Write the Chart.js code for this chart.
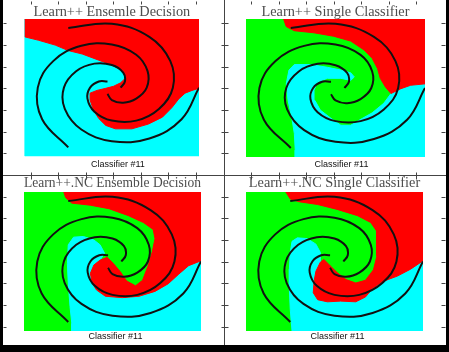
<!DOCTYPE html>
<html>
<head>
<meta charset="utf-8">
<script src="https://cdn.jsdelivr.net/npm/chart.js@4.4.1/dist/chart.umd.min.js"></script>
<style>
  html, body { margin: 0; padding: 0; background: #000; }
  #frame { position: absolute; left: 3px; top: 0; width: 443px; height: 345px; background: #fff; overflow: hidden; }
  #frame canvas { position: absolute; }
</style>
</head>
<body>
<div id="frame">
  <canvas id="p1" width="220" height="175" style="left:0;top:0"></canvas>
  <canvas id="p2" width="222" height="175" style="left:221px;top:0"></canvas>
  <canvas id="p3" width="220" height="169" style="left:0;top:176px"></canvas>
  <canvas id="p4" width="222" height="169" style="left:221px;top:176px"></canvas>
  <canvas id="overlay" width="443" height="350" style="left:0;top:0"></canvas>
</div>
<script>
// titles
const titles = ['Learn++ Ensemle Decision', 'Learn++ Single Classifier',
                'Learn++.NC Ensemble Decision', 'Learn++.NC Single Classifier'];
const xLabel = 'Classifier #11';

// spiral arms (outer end first), plot runs -1..1 both ways
const armA = [[-0.50,0.87],[0.00,0.93],[0.43,0.74],[0.67,0.39],[0.70,0.00],[0.54,-0.31],[0.28,-0.48],
              [0.00,-0.48],[-0.20,-0.35],[-0.28,-0.16],[-0.25,0.00],[-0.15,0.09],[-0.05,0.09]];
const armB = [[-0.50,-0.87],[-0.80,-0.46],[-0.85,0.00],[-0.67,0.39],[-0.35,0.61],[0.00,0.63],[0.28,0.48],
              [0.41,0.24],[0.40,0.00],[0.28,-0.16],[0.13,-0.22],[0.00,-0.18],[-0.05,-0.09]];
const armC = [[1.00,0.00],[0.80,-0.46],[0.43,-0.74],[0.00,-0.78],[-0.35,-0.61],[-0.54,-0.31],[-0.55,0.00],
              [-0.41,0.24],[-0.20,0.35],[0.00,0.33],[0.13,0.22],[0.15,0.09],[0.10,0.00]];

// decision regions
const square = [[-1,-1],[1,-1],[1,1],[-1,1]];
const p1Red = [[-1,1],[1,1],[1,-0.01],[0.92,-0.04],[0.84,-0.08],[0.77,-0.16],[0.69,-0.29],[0.58,-0.43],
  [0.42,-0.53],[0.23,-0.60],[0.04,-0.60],[-0.07,-0.55],[-0.15,-0.45],[-0.21,-0.33],[-0.25,-0.18],
  [-0.25,-0.08],[-0.17,-0.04],[-0.07,-0.01],[0.02,0.02],[0.10,0.07],[0.15,0.13],[0.15,0.20],[0.10,0.26],
  [0.00,0.33],[-0.15,0.40],[-0.34,0.49],[-0.50,0.54],[-0.65,0.62],[-0.84,0.69],[-1,0.74]];
const p2Red = [[-0.58,1],[1,1],[1,0.06],[0.84,0.04],[0.73,-0.01],[0.62,-0.08],[0.56,0.01],[0.50,0.14],
  [0.47,0.28],[0.41,0.43],[0.32,0.55],[0.17,0.68],[-0.02,0.75],[-0.24,0.80],[-0.46,0.83],[-0.55,0.89]];
const p2Cyan = [[-0.45,-1],[1,-1],[1,0.06],[0.84,0.04],[0.73,-0.01],[0.62,-0.08],[0.54,-0.22],[0.41,-0.36],
  [0.26,-0.47],[0.17,-0.54],[0.06,-0.54],[-0.05,-0.44],[-0.17,-0.32],[-0.23,-0.18],[-0.24,-0.03],
  [-0.20,0.09],[-0.09,0.14],[0.06,0.14],[0.17,0.11],[0.21,0.16],[0.17,0.22],[0.06,0.26],[-0.09,0.30],
  [-0.28,0.34],[-0.46,0.34],[-0.52,0.26],[-0.55,0.06],[-0.53,-0.18],[-0.49,-0.42],[-0.46,-0.66],[-0.45,-0.90]];
const p3Red = [[-0.55,1],[1,1],[1,0.01],[0.86,-0.06],[0.75,-0.18],[0.63,-0.32],[0.48,-0.43],[0.30,-0.50],
  [0.11,-0.52],[-0.08,-0.50],[-0.18,-0.41],[-0.23,-0.31],[-0.25,-0.17],[-0.21,-0.05],[-0.14,0.02],
  [-0.06,0.06],[0.01,-0.03],[0.09,-0.15],[0.16,-0.28],[0.26,-0.35],[0.34,-0.27],[0.40,-0.07],[0.45,0.14],
  [0.48,0.33],[0.46,0.46],[0.35,0.56],[0.18,0.66],[-0.04,0.76],[-0.25,0.81],[-0.46,0.84],[-0.53,0.92]];
const p3Cyan = [[-0.46,-1],[1,-1],[1,0.01],[0.86,-0.06],[0.75,-0.18],[0.63,-0.32],[0.48,-0.43],[0.30,-0.50],
  [0.11,-0.52],[-0.08,-0.50],[-0.18,-0.41],[-0.23,-0.31],[-0.25,-0.17],[-0.21,-0.05],[-0.14,0.02],
  [-0.09,0.12],[-0.14,0.24],[-0.21,0.31],[-0.33,0.36],[-0.44,0.35],[-0.50,0.24],[-0.51,-0.03],
  [-0.50,-0.31],[-0.48,-0.65],[-0.46,-0.89]];
const p4Red = [[-0.55,1],[1,1],[1,0.01],[0.86,-0.11],[0.71,-0.21],[0.54,-0.29],[0.43,-0.39],[0.35,-0.51],
  [0.24,-0.58],[0.07,-0.57],[-0.08,-0.58],[-0.19,-0.55],[-0.24,-0.45],[-0.23,-0.28],[-0.21,-0.14],
  [-0.16,-0.01],[-0.12,0.03],[-0.05,-0.06],[0.03,-0.16],[0.13,-0.26],[0.24,-0.31],[0.35,-0.27],
  [0.44,-0.12],[0.48,0.08],[0.48,0.27],[0.47,0.44],[0.41,0.56],[0.26,0.66],[0.03,0.75],[-0.19,0.82],
  [-0.40,0.86],[-0.50,0.90]];
const p4Cyan = [[-0.48,-1],[1,-1],[1,0.01],[0.86,-0.11],[0.71,-0.21],[0.54,-0.29],[0.43,-0.39],[0.35,-0.51],
  [0.24,-0.58],[0.07,-0.57],[-0.08,-0.58],[-0.19,-0.55],[-0.24,-0.45],[-0.23,-0.28],[-0.21,-0.14],
  [-0.16,-0.01],[-0.16,0.13],[-0.21,0.25],[-0.31,0.33],[-0.42,0.34],[-0.48,0.29],[-0.50,0.13],
  [-0.51,-0.11],[-0.51,-0.40],[-0.50,-0.69]];

// frame ticks (16 steps each way, dividers at 8)
const frameTicks = [1,2,3,4,5,6,7,8,9,10,11,12,13,14,15];

const RED = '#ff0000', CYAN = '#00ffff', GREEN = '#00ff00';

const toPts = arr => arr.map(([x, y]) => ({x, y}));

const panels = [
  {id: 'p1', title: titles[0], base: CYAN, regions: [[p1Red, RED]],
   w: 220, h: 175, area: [21.7, 196, 19, 156.3], titleTop: 4.7, labelY: 164.3, shift: 6},
  {id: 'p2', title: titles[1], base: GREEN, regions: [[p2Red, RED], [p2Cyan, CYAN]],
   w: 222, h: 175, area: [22, 201, 19, 157], titleTop: 4.7, labelY: 164.3, shift: 6},
  {id: 'p3', title: titles[2], base: GREEN, regions: [[p3Red, RED], [p3Cyan, CYAN]],
   w: 220, h: 169, area: [21, 198, 16, 155], titleTop: 0, labelY: 161, shift: 3},
  {id: 'p4', title: titles[3], base: GREEN, regions: [[p4Red, RED], [p4Cyan, CYAN]],
   w: 222, h: 169, area: [22, 199, 16, 155], titleTop: 0, labelY: 160.7, shift: 3}
];

function makePanel(p) {
  const [cl, cr, ct, cb] = p.area;
  const mid = (cl + cr) / 2 + p.shift;    // centre of the bottom label
  const span = 2 * mid - cl;
  const datasets = [];
  [armA, armB, armC].forEach(arm => datasets.push({
    data: toPts(arm), showLine: true, borderColor: '#111', borderWidth: 2,
    pointRadius: 0, tension: 0.4, fill: false, order: 0
  }));
  p.regions.forEach(([pts, col], i) => datasets.push({
    data: toPts(pts.concat([pts[0]])), showLine: true, borderColor: col, backgroundColor: col,
    borderWidth: 1, pointRadius: 0, tension: 0, fill: 'shape', order: 1 + i
  }));
  datasets.push({
    data: toPts(square.concat([square[0]])), showLine: true, borderColor: p.base, backgroundColor: p.base,
    borderWidth: 1, pointRadius: 0, fill: 'shape', order: 10
  });

  new Chart(document.getElementById(p.id), {
    type: 'scatter',
    data: {datasets},
    options: {
      responsive: false,
      animation: false,
      events: [],
      layout: {padding: {left: cl, right: p.w - span, top: 0, bottom: 0}},
      plugins: {
        legend: {display: false},
        tooltip: {enabled: false},
        title: {
          display: true, text: p.title, fullSize: false, color: '#4d4d4d',
          font: {family: '"Liberation Serif", "Times New Roman", serif', size: 14.3, weight: 'normal', lineHeight: 1},
          padding: {top: p.titleTop, bottom: ct - p.titleTop - 14.3}
        },
        subtitle: {
          display: true, position: 'bottom', text: xLabel, color: '#111',
          font: {family: '"Liberation Sans", Arial, sans-serif', size: 9, weight: 'normal', lineHeight: 1.2},
          padding: {top: p.labelY - cb - 5.4, bottom: p.h - p.labelY - 5.4}
        }
      },
      scales: {
        x: {type: 'linear', min: -1, max: 1, display: false},
        y: {type: 'linear', min: -1, max: 1, display: false},
        yr: {
          type: 'linear', position: 'right', display: true,
          ticks: {display: false}, grid: {display: false}, border: {display: false},
          afterFit: sc => { sc.width = span - cr; }
        }
      }
    }
  });
}

panels.forEach(makePanel);

// frame: dividers and small tick marks
const framePlugin = {
  id: 'framePlugin',
  afterDraw(chart) {
    const {ctx, scales: {x, y}} = chart;
    const c = v => Math.round(v) + 0.5;
    const left = c(x.getPixelForValue(0)), right = c(x.getPixelForValue(16)), xm = c(x.getPixelForValue(8));
    const top = c(y.getPixelForValue(16)), bottom = c(y.getPixelForValue(0)), ym = c(y.getPixelForValue(8));
    ctx.save();
    ctx.strokeStyle = '#444';
    ctx.lineWidth = 1;
    ctx.beginPath();
    ctx.moveTo(xm, 0); ctx.lineTo(xm, chart.height);
    ctx.moveTo(0, ym); ctx.lineTo(chart.width, ym);
    frameTicks.forEach(k => {
      const py = c(y.getPixelForValue(k));
      ctx.moveTo(left, py); ctx.lineTo(left + 3, py);
      ctx.moveTo(xm - 3, py); ctx.lineTo(xm + 4, py);
      ctx.moveTo(right - 3, py); ctx.lineTo(right + 1, py);
      const px = c(x.getPixelForValue(k));
      ctx.moveTo(px, top); ctx.lineTo(px, top + 3);
      ctx.moveTo(px, ym - 3); ctx.lineTo(px, ym + 4);
      ctx.moveTo(px, bottom - 3); ctx.lineTo(px, bottom + 1);
    });
    ctx.stroke();
    ctx.restore();
  }
};

new Chart(document.getElementById('overlay'), {
  type: 'scatter',
  data: {datasets: []},
  options: {
    responsive: false,
    animation: false,
    events: [],
    layout: {padding: {left: 0, right: 2, top: 1.4, bottom: 1.4}},
    plugins: {legend: {display: false}, tooltip: {enabled: false}},
    scales: {
      x: {type: 'linear', min: 0, max: 16, display: false},
      y: {type: 'linear', min: 0, max: 16, display: false}
    }
  },
  plugins: [framePlugin]
});
</script>
</body>
</html>
